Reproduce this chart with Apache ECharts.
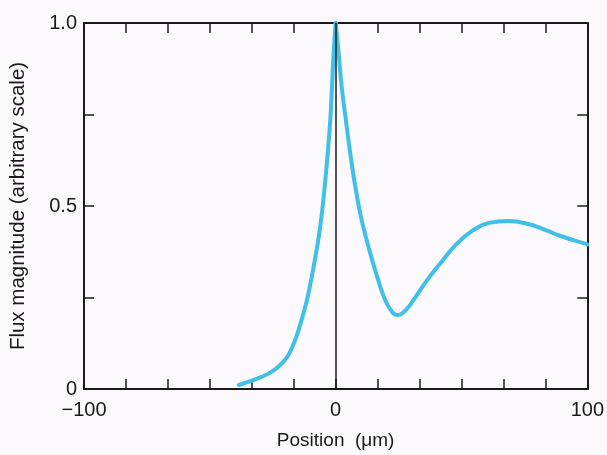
<!DOCTYPE html>
<html>
<head>
<meta charset="utf-8">
<script src="https://cdn.jsdelivr.net/npm/echarts@6/dist/echarts.min.js"></script>
<style>
html,body{margin:0;padding:0;background:#fbf9fc;}
#c{width:607px;height:455px;}
</style>
</head>
<body>
<div id="c"></div>
<script>
// Rising branch (left of the peak): position (µm) and flux magnitude
var leftPositions = [-38.5, -33.6, -29.5, -25.7, -22.2, -19.1, -17.1, -15.2, -13.2, -11.4, -8.8, -6.2, -4.3, -3.1, -2.1, -1.45, -0.78, 0];
var leftFlux =      [0.011, 0.022, 0.033, 0.046, 0.064, 0.089, 0.117, 0.151, 0.197, 0.243, 0.332, 0.44, 0.557, 0.649, 0.738, 0.828, 0.919, 1.0];
// Falling branch and second hump (right of the peak)
var rightPositions = [0, 1.17, 2.35, 4.0, 5.7, 7.7, 9.9, 12.2, 14.6, 16.8, 18.6, 21.3, 24.5, 27.8, 31.7, 36.2, 41.3, 47.9, 54.2, 60.9, 68.7, 76.5, 83.2, 89.4, 99.2, 100];
var rightFlux =      [1.0, 0.919, 0.828, 0.738, 0.649, 0.557, 0.475, 0.41, 0.35, 0.3, 0.262, 0.222, 0.202, 0.215, 0.251, 0.296, 0.341, 0.395, 0.432, 0.454, 0.459, 0.451, 0.435, 0.418, 0.397, 0.395];
var xTickLabels = {"-100": "\u2212100", "0": "0", "100": "100"};
var yTickLabels = {"0": "0", "0.5": "0.5", "1": "1.0"};

function pairs(xs, ys) { return xs.map(function (p, i) { return [p, ys[i]]; }); }
var chart = echarts.init(document.getElementById('c'), null, {renderer: 'canvas'});
var axisLine = {show: true, onZero: false, lineStyle: {color: '#1a1a1a', width: 2}};
var tick = {show: true, inside: true, length: 10, lineStyle: {color: '#1a1a1a', width: 1.5}};
var font = 'Liberation Sans, Arial, Helvetica, sans-serif';
var curveStyle = {color: '#40bfe8', width: 4, cap: 'round', join: 'round'};
chart.setOption({
  backgroundColor: '#fbf9fc',
  animation: false,
  grid: {left: 79, right: 17, top: 23, bottom: 62, containLabel: false},
  xAxis: [{
    type: 'value', position: 'bottom', min: -100, max: 100, interval: 100,
    name: 'Position  (\u03bcm)', nameLocation: 'middle', nameGap: 42,
    nameTextStyle: {fontFamily: font, fontSize: 19, color: '#1a1a1a'},
    axisLine: axisLine, axisTick: tick,
    minorTick: {show: true, splitNumber: 6, length: 10, lineStyle: {color: '#1a1a1a', width: 1.5}},
    splitLine: {show: false},
    axisLabel: {margin: 11, fontFamily: font, fontSize: 20, color: '#1a1a1a',
      formatter: function (v) { var k = String(Math.round(v)); return xTickLabels[k] !== undefined ? xTickLabels[k] : ''; }}
  }, {
    type: 'value', position: 'top', min: -100, max: 100, interval: 100,
    axisLine: axisLine, axisTick: tick,
    minorTick: {show: true, splitNumber: 6, length: 10, lineStyle: {color: '#1a1a1a', width: 1.5}},
    splitLine: {show: false}, axisLabel: {show: false}
  }],
  yAxis: [{
    type: 'value', position: 'left', min: 0, max: 1, interval: 0.5,
    name: 'Flux magnitude (arbitrary scale)', nameLocation: 'middle', nameGap: 55, nameRotate: 90,
    nameTextStyle: {fontFamily: font, fontSize: 20.5, color: '#1a1a1a'},
    axisLine: axisLine, axisTick: tick,
    minorTick: {show: true, splitNumber: 2, length: 10, lineStyle: {color: '#1a1a1a', width: 1.5}},
    splitLine: {show: false},
    axisLabel: {margin: 7, fontFamily: font, fontSize: 20, color: '#1a1a1a',
      formatter: function (v) { var k = String(Math.round(v * 10) / 10); return yTickLabels[k] !== undefined ? yTickLabels[k] : ''; }}
  }, {
    type: 'value', position: 'right', min: 0, max: 1, interval: 0.5,
    axisLine: axisLine, axisTick: tick,
    minorTick: {show: true, splitNumber: 2, length: 10, lineStyle: {color: '#1a1a1a', width: 1.5}},
    splitLine: {show: false}, axisLabel: {show: false}
  }],
  series: [{
    type: 'line', xAxisIndex: 0, yAxisIndex: 0, data: pairs(leftPositions, leftFlux),
    showSymbol: false, smooth: 0.45, lineStyle: curveStyle,
    markLine: {
      silent: true, symbol: ['none', 'none'], label: {show: false},
      lineStyle: {color: '#1a1a1a', width: 1.5, type: 'solid'},
      data: [[{coord: [0, 0]}, {coord: [0, 1]}]]
    }
  }, {
    type: 'line', xAxisIndex: 0, yAxisIndex: 0, data: pairs(rightPositions, rightFlux),
    showSymbol: false, smooth: 0.45, lineStyle: curveStyle
  }]
});
</script>
</body>
</html>
